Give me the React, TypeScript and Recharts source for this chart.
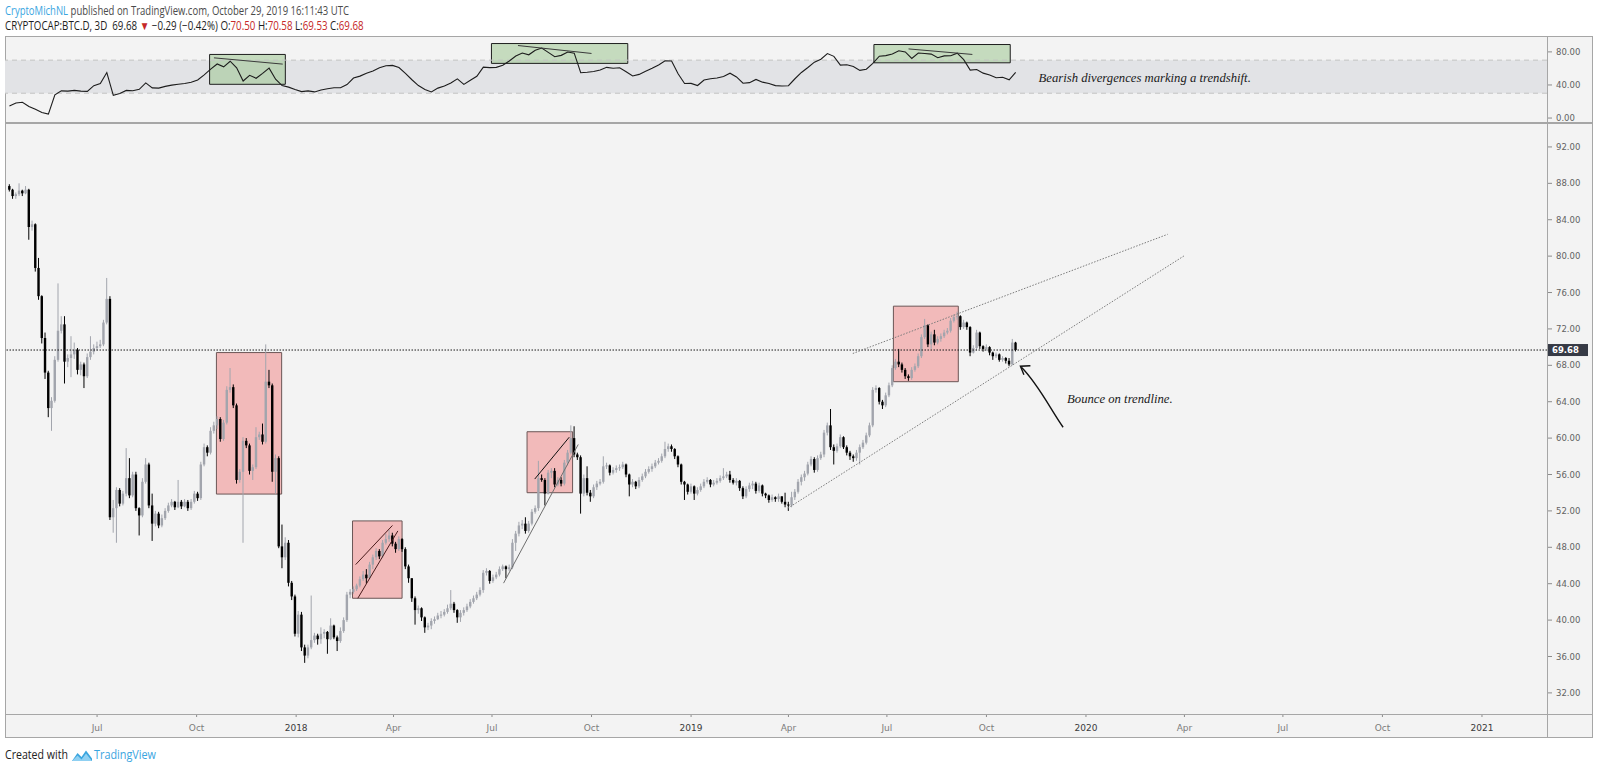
import React, { useLayoutEffect, useRef, useState } from 'react'
import {
  ComposedChart,
  Bar,
  Line,
  XAxis,
  YAxis,
  ReferenceArea,
  ReferenceLine,
  ReferenceDot,
} from 'recharts'

// CRYPTOCAP:BTC.D, 3D candles. Days are counted from 2017-01-01.
const firstDay = 100 // 2017-04-11
const stepDays = 3
const firstOpen = 87.7

const closes = [
  87.3, 86.6, 86.8, 87.2, 86.9, 87.3, 83.2, 83.5, 78.7, 75.6, 71.0, 67.2, 63.3, 64.1, 68.6, 71.8,
  72.5, 68.4, 68.8, 69.2, 69.7, 67.5, 68.1, 66.8, 68.9, 69.5, 69.9, 70.1, 70.3, 72.7, 75.3, 51.3,
  52.3, 54.3, 52.8, 53.9, 55.6, 53.7, 56.0, 52.3, 51.5, 55.2, 57.1, 52.6, 50.6, 51.7, 50.4, 51.2,
  52.0, 52.6, 53.0, 52.4, 53.0, 52.5, 53.0, 52.3, 53.0, 53.9, 53.4, 57.1, 59.0, 58.4, 60.8, 61.4,
  62.1, 59.9, 61.7, 65.3, 65.6, 63.6, 55.4, 56.3, 59.7, 59.2, 56.4, 56.8, 60.1, 60.4, 59.6, 66.2,
  65.8, 56.3, 57.8, 48.1,
  46.9, 48.5, 44.1, 42.6, 38.5, 40.6, 37.0, 36.1, 37.0, 37.8, 38.3, 37.9, 38.5, 38.7, 37.9, 39.4,
  38.1, 37.7, 38.8, 40.0, 42.8, 43.1, 43.4, 43.8, 44.5, 45.0, 44.6, 46.1, 46.9, 47.6, 47.0, 48.5,
  48.9, 49.3, 48.4, 47.8, 48.9, 47.8, 45.9, 44.6, 42.4, 41.1, 41.3, 40.3, 39.2, 39.4, 39.9, 40.1,
  40.5, 40.6, 40.9, 41.3, 41.8, 41.1, 40.3, 40.8, 41.1, 41.5, 42.0, 42.4, 42.8, 43.3, 45.2, 45.4,
  44.3, 44.7, 45.0, 45.6,
  45.9, 45.6, 45.8, 48.5, 49.5, 50.4, 50.6, 49.8, 50.6, 51.9, 52.3, 55.6, 55.4, 53.9, 56.2, 56.4,
  54.9, 55.4, 55.0, 57.3, 58.4, 60.0, 58.2, 57.9, 53.9, 55.6, 54.0, 53.6, 54.6, 55.0, 55.2, 56.9,
  57.0, 56.2, 56.5, 56.7, 56.8, 57.1, 56.0, 54.9, 55.2, 54.7, 55.4, 55.8, 56.3, 56.6, 56.9, 57.3,
  57.5, 58.0, 58.8, 59.1, 58.8, 58.0, 57.1, 55.2, 54.9, 54.1, 54.7, 53.9, 54.3, 54.7, 55.2, 55.4,
  54.9, 55.1, 55.3, 55.6, 55.8, 56.0, 55.4, 55.1, 55.3, 54.5, 53.6, 54.4, 54.8, 55.0, 54.2, 54.8,
  53.9, 53.7, 53.2, 53.5, 53.3, 53.6,
  53.0, 52.7, 52.6, 53.5, 54.1, 55.2, 55.7, 56.1, 57.1, 57.7, 56.5, 57.8, 58.2, 60.6, 61.4, 59.0,
  58.6, 59.1, 60.1, 59.0, 58.4, 58.0, 57.8, 58.4, 59.0, 59.5, 60.3, 61.4, 65.3, 65.5, 64.0, 63.6,
  64.7, 65.8, 67.7, 68.4, 68.1, 67.5, 66.8, 66.6, 67.5, 67.9, 69.0, 71.1, 72.4, 70.3, 71.4, 70.5,
  70.9, 71.2, 71.6, 71.8, 72.9, 73.3, 73.4, 72.2,
  72.7, 72.2, 69.4, 69.9, 71.6, 70.1, 69.8, 70.0, 69.4, 69.0, 69.2, 68.6, 68.8, 68.5, 68.1, 70.5,
  69.68,
]

const highs = [
  87.9, 87.4, 87.0, 88.0, 87.3, 87.7, 87.4, 83.9, 83.6, 79.8, 75.7, 71.6, 67.4, 64.5, 69.0, 77.0,
  73.4, 73.4, 69.2, 71.2, 70.5, 69.9, 68.4, 68.3, 69.3, 71.2, 70.3, 70.6, 70.8, 73.0, 77.6, 75.6,
  53.2, 54.6, 54.5, 54.2, 58.9, 57.8, 56.3, 56.3, 52.4, 55.6, 57.8, 57.3, 53.9, 52.0, 51.9, 51.6,
  52.3, 52.9, 53.3, 53.1, 55.4, 53.2, 53.3, 53.2, 53.3, 54.2, 54.1, 57.4, 59.4, 59.2, 61.2, 61.8,
  62.4, 62.3, 62.0, 65.7, 67.7, 65.9, 63.8, 56.6, 60.1, 60.0, 59.4, 57.1, 61.2, 60.7, 61.6, 70.3,
  67.5, 66.0, 58.2, 58.0,
  50.5, 49.1, 48.8, 44.3, 42.8, 41.0, 40.9, 37.3, 37.3, 42.7, 38.6, 38.5, 39.2, 39.0, 38.8, 40.2,
  39.5, 38.3, 39.2, 40.3, 43.1, 43.4, 43.7, 44.0, 44.8, 45.4, 45.6, 46.4, 47.2, 47.9, 47.8, 48.8,
  49.5, 49.9, 49.6, 48.6, 49.2, 49.0, 48.0, 46.1, 44.3, 42.6, 41.6, 41.4, 40.4, 39.7, 40.2, 40.4,
  40.8, 41.0, 41.2, 41.7, 43.3, 42.0, 41.2, 41.1, 41.4, 41.8, 42.3, 42.7, 43.1, 43.6, 45.5, 45.7,
  45.5, 45.0, 45.3, 45.9,
  46.1, 46.0, 46.1, 48.9, 49.8, 50.8, 51.0, 51.3, 50.9, 52.2, 52.6, 57.5, 56.0, 55.6, 56.5, 56.7,
  56.7, 55.7, 55.7, 57.6, 58.7, 61.4, 61.3, 58.4, 58.1, 56.0, 56.9, 54.3, 54.9, 55.3, 55.5, 58.0,
  57.3, 57.1, 56.8, 57.0, 57.1, 57.4, 57.2, 56.1, 55.5, 55.3, 55.7, 56.1, 56.6, 56.9, 57.2, 57.6,
  57.8, 58.3, 59.6, 59.4, 59.3, 58.9, 58.1, 57.2, 55.3, 55.0, 55.0, 54.8, 54.6, 55.0, 55.5, 55.7,
  55.5, 55.4, 55.6, 55.9, 56.7, 56.3, 56.4, 55.6, 55.6, 55.4, 54.7, 54.7, 55.1, 55.3, 55.2, 55.1,
  54.9, 54.0, 53.8, 53.8, 53.6, 53.9,
  53.6, 54.0, 53.0, 54.1, 54.4, 55.5, 56.0, 56.4, 57.4, 58.0, 57.9, 58.1, 58.5, 60.9, 61.7, 63.2,
  59.3, 59.4, 60.4, 60.2, 59.2, 58.6, 58.2, 58.7, 59.3, 59.8, 60.6, 61.7, 65.6, 65.8, 65.6, 64.2,
  65.0, 66.1, 68.0, 68.7, 69.8, 68.3, 67.7, 67.0, 67.8, 68.2, 69.3, 71.4, 73.1, 72.5, 71.7, 71.9,
  71.2, 71.5, 71.9, 72.1, 73.2, 73.6, 73.9, 73.5,
  73.0, 72.8, 72.3, 70.2, 71.9, 71.7, 70.2, 70.3, 70.1, 69.5, 69.4, 69.3, 69.0, 68.9, 68.8, 70.9,
  70.58,
]

const lows = [
  87.1, 86.3, 86.3, 86.6, 86.6, 86.8, 81.8, 82.8, 78.3, 75.2, 70.4, 66.5, 62.3, 60.8, 63.9, 68.4,
  71.5, 66.0, 67.8, 66.7, 68.7, 67.0, 66.9, 65.5, 66.6, 68.6, 69.2, 69.6, 69.9, 70.1, 72.5, 51.0,
  49.6, 48.5, 52.5, 52.6, 53.6, 53.4, 53.5, 52.0, 49.3, 51.3, 55.0, 52.3, 48.7, 50.3, 50.1, 50.2,
  51.0, 51.8, 52.4, 52.1, 52.3, 52.2, 52.4, 52.0, 52.1, 52.8, 53.1, 53.2, 56.9, 58.0, 58.2, 60.5,
  61.0, 59.6, 59.7, 61.5, 65.0, 63.3, 55.0, 55.1, 48.5, 58.9, 56.0, 55.4, 56.6, 59.8, 59.3, 59.4,
  65.5, 55.2, 53.9, 47.9,
  45.7, 46.6, 43.7, 42.2, 38.2, 38.1, 36.6, 35.3, 35.8, 36.8, 37.5, 37.3, 37.4, 38.0, 36.3, 37.8,
  37.9, 36.6, 37.5, 38.6, 39.8, 42.4, 42.9, 43.2, 43.6, 44.3, 44.0, 44.5, 45.6, 46.6, 46.7, 46.8,
  48.3, 48.6, 48.1, 47.4, 47.6, 47.5, 45.6, 44.1, 42.0, 39.5, 40.7, 39.9, 38.6, 38.9, 39.0, 39.6,
  40.0, 40.2, 40.4, 40.7, 41.1, 40.8, 39.7, 39.8, 40.5, 40.9, 41.3, 41.8, 42.2, 42.6, 43.0, 44.9,
  44.0, 44.1, 44.5, 44.8,
  45.4, 44.6, 45.4, 45.6, 47.6, 49.2, 50.0, 49.5, 49.6, 50.4, 51.7, 52.0, 55.2, 52.6, 53.8, 55.6,
  54.6, 54.7, 54.7, 54.8, 57.0, 58.2, 57.9, 57.6, 51.7, 53.6, 53.7, 53.0, 53.4, 54.3, 54.8, 55.0,
  56.6, 55.9, 56.0, 56.2, 56.4, 56.6, 55.7, 53.6, 54.6, 54.4, 54.5, 55.2, 55.6, 56.1, 56.3, 56.7,
  57.1, 57.3, 57.8, 58.5, 58.5, 57.7, 56.8, 54.9, 53.2, 53.8, 53.9, 53.2, 53.7, 54.1, 54.5, 55.0,
  54.6, 54.7, 54.9, 55.1, 55.4, 55.6, 55.1, 54.9, 54.8, 54.2, 53.3, 53.4, 54.1, 54.4, 53.9, 54.0,
  53.6, 53.4, 52.9, 53.0, 53.0, 53.0,
  52.8, 52.4, 52.0, 52.4, 53.2, 53.9, 54.8, 55.3, 55.9, 56.9, 56.2, 56.3, 57.6, 57.9, 60.3, 58.7,
  57.1, 58.4, 58.9, 58.8, 58.1, 57.6, 57.4, 57.5, 57.1, 58.8, 59.3, 60.1, 61.2, 65.0, 63.7, 63.2,
  63.4, 64.5, 65.6, 67.5, 67.8, 67.2, 66.5, 66.3, 66.4, 67.3, 67.7, 68.8, 70.9, 70.0, 69.8, 70.2,
  70.3, 70.6, 71.0, 71.4, 71.6, 72.7, 73.0, 71.9,
  72.0, 71.9, 69.0, 69.3, 69.6, 69.8, 69.5, 69.6, 69.1, 68.6, 68.8, 68.4, 68.4, 68.2, 67.9, 68.0,
  69.53,
]

const rsiStep = 2
const rsiValues = [
  14.5, 18.1, 19.1, 13.9, 10.5, 6.8, 4.8, 28.0, 32.9, 32.6,
  33.4, 32.5, 32.3, 39.1, 41.8, 55.0, 27.4, 29.7, 33.4, 33.0,
  34.7, 42.5, 36.5, 36.2, 38.3, 39.8, 40.9, 41.8, 43.2, 46.0,
  52.2, 59.2, 65.4, 61.9, 68.7, 60.7, 44.8, 51.7, 48.1, 54.0,
  60.3, 47.0, 39.2, 37.4, 34.5, 32.0, 32.9, 31.6, 34.0, 35.5,
  36.7, 36.6, 40.5, 48.4, 50.7, 54.3, 57.0, 60.7, 63.3, 63.7,
  61.1, 54.0, 46.3, 39.3, 34.6, 31.6, 36.2, 38.7, 42.3, 47.4,
  40.7, 45.7, 50.5, 61.6, 61.0, 61.3, 63.9, 69.0, 75.0, 78.6,
  76.5, 82.0, 84.6, 79.4, 74.2, 75.8, 79.8, 78.5, 54.8, 55.4,
  56.2, 58.2, 61.3, 60.3, 60.8, 56.0, 50.8, 52.8, 56.5, 60.1,
  64.1, 69.2, 69.0, 53.6, 41.7, 41.9, 39.3, 46.0, 47.5, 48.5,
  50.3, 54.2, 49.7, 42.1, 42.8, 46.7, 43.4, 41.8, 39.2, 38.7,
  39.1, 47.5, 55.1, 61.1, 67.6, 71.2, 78.0, 74.6, 64.0, 64.5,
  62.3, 57.6, 59.0, 66.1, 74.8, 75.5, 77.4, 81.3, 79.9, 72.1,
  78.6, 78.1, 77.3, 72.9, 75.2, 75.4, 78.4, 70.6, 57.9, 58.7,
  54.3, 52.0, 48.8, 49.4, 46.3, 55.3,
]

const timeTickDays = [181, 273, 365, 455, 546, 638, 730, 820, 911, 1003, 1095, 1186, 1277, 1369, 1461]
const timeTickLabels = ['Jul', 'Oct', '2018', 'Apr', 'Jul', 'Oct', '2019', 'Apr', 'Jul', 'Oct', '2020', 'Apr', 'Jul', 'Oct', '2021']
const priceTicks = [32, 36, 40, 44, 48, 52, 56, 60, 64, 68, 72, 76, 80, 84, 88, 92]
const rsiTicks = [0, 40, 80]
const lastPrice = 69.68

const X_DOMAIN: [number, number] = [95.9, 1521.1]
const PRICE_DOMAIN: [number, number] = [29.68, 94.63]
const RSI_DOMAIN: [number, number] = [-6, 98]

// drawings on the chart (day, value)
const pinkBoxes = [
  { x1: 291.3, x2: 351.6, y1: 53.85, y2: 69.4 },
  { x1: 417.1, x2: 462.9, y1: 42.4, y2: 50.9 },
  { x1: 578.4, x2: 620.5, y1: 54.0, y2: 60.7 },
  { x1: 917, x2: 977, y1: 66.2, y2: 74.5 },
]
const solidLines = [
  { a: [420, 46.1], b: [454, 50.4], color: '#4a1c1c' },
  { a: [422, 42.4], b: [459, 49.8], color: '#4a1c1c' },
  { a: [585.5, 55.5], b: [617.4, 60.1], color: '#111111' },
  { a: [556.7, 44.06], b: [625.7, 59.3], color: '#6e6e6e' },
]
const dottedLines = [
  { a: [879.5, 69.3], b: [1170.5, 82.4] },
  { a: [819.5, 52.3], b: [1186.6, 80.1] },
]
const greenBoxes = [
  { x1: 285, x2: 355, y1: 40.8, y2: 76.9 },
  { x1: 545.5, x2: 671.5, y1: 66.1, y2: 90.1 },
  { x1: 899, x2: 1025, y1: 66.8, y2: 88.9 },
]
const rsiLines = [
  { a: [289, 72.8], b: [352.6, 65.2] },
  { a: [570, 87.7], b: [638, 78.1] },
  { a: [931, 83.6], b: [990, 76.9] },
]

const candles = closes.map((c, i) => {
  const o = i === 0 ? firstOpen : closes[i - 1]
  const h = Math.max(highs[i], o, c)
  const l = Math.min(lows[i], o, c)
  return { day: firstDay + i * stepDays, o, c, h, l, range: [l, h] }
})

const rsiData = rsiValues.map((v, k) => ({ day: firstDay + k * rsiStep * stepDays, rsi: v }))

const UP = '#a2a5ad'
const DOWN = '#000000'
const BG = '#f3f3f3'
const AXIS_FONT = "'DejaVu Sans', Verdana, sans-serif"
const SERIF = "'Liberation Serif', 'DejaVu Serif', serif"
const SANS = "'Open Sans', 'Noto Sans', sans-serif"

// squeezes a text line to a given width (the header font is a narrow one)
function FitText({ x, y, width, children, ...rest }: any) {
  const ref = useRef<SVGTextElement>(null)
  const [k, setK] = useState(1)
  useLayoutEffect(() => {
    const el = ref.current
    if (!el) return
    const w = el.getComputedTextLength()
    if (w > 0) setK(width / w)
  }, [width])
  return (
    <g transform={`translate(${x} ${y}) scale(${k} 1)`}>
      <text ref={ref} x={0} y={0} style={{ whiteSpace: 'pre' }} {...rest}>
        {children}
      </text>
    </g>
  )
}

function Candle(props: any) {
  const { x, y, width, height, payload } = props
  if (x == null || y == null || !payload) return null
  const { o, c, h, l } = payload
  const color = c >= o ? UP : DOWN
  const top = height < 0 ? y + height : y
  const span = Math.abs(height)
  const ppu = h > l ? span / (h - l) : 0
  const bodyTop = top + (h - Math.max(o, c)) * ppu
  const bodyBottom = top + (h - Math.min(o, c)) * ppu
  const cx = x + width / 2
  return (
    <g>
      <line x1={cx} x2={cx} y1={top} y2={top + span} stroke={color} strokeWidth={1} />
      <rect x={cx - 1.2} y={bodyTop} width={2.4} height={Math.max(1, bodyBottom - bodyTop)} fill={color} />
    </g>
  )
}

function TimeTick(props: any) {
  const { x, y, payload } = props
  const idx = timeTickDays.findIndex((d) => Math.abs(d - payload.value) < 0.01)
  const label = timeTickLabels[idx] ?? ''
  const isYear = /^\d{4}$/.test(label)
  return (
    <g>
      <line x1={x} x2={x} y1={y} y2={y + 3} stroke="#8c8c8c" />
      <text x={x} y={y + 16.5} textAnchor="middle" fontSize={9} fontFamily={AXIS_FONT} fill={isYear ? '#3a3a3a' : '#7c7c7c'}>
        {label}
      </text>
    </g>
  )
}

const yTick = { fontSize: 8.5, fill: '#626262', fontFamily: AXIS_FONT }

function RsiPane() {
  return (
    <ComposedChart width={1588} height={86} data={rsiData} margin={{ top: 0, right: 0, bottom: 0, left: 0 }}>
      <XAxis dataKey="day" type="number" domain={X_DOMAIN} allowDataOverflow hide />
      <YAxis
        orientation="right"
        domain={RSI_DOMAIN}
        allowDataOverflow
        ticks={rsiTicks}
        interval={0}
        width={46}
        axisLine={false}
        tickLine={{ stroke: '#8c8c8c' }}
        tickSize={5}
        tickMargin={4}
        tick={yTick}
        tickFormatter={(v: number) => v.toFixed(2)}
      />
      <ReferenceArea y1={30} y2={70} fill="#e2e3e6" fillOpacity={1} stroke="none" />
      <ReferenceLine y={70} stroke="#c2c2c2" strokeDasharray="5 4" />
      <ReferenceLine y={30} stroke="#c2c2c2" strokeDasharray="5 4" />
      {greenBoxes.map((b, i) => (
        <ReferenceArea key={'g' + i} x1={b.x1} x2={b.x2} y1={b.y1} y2={b.y2} fill="#8fbf7f" fillOpacity={0.45} stroke="#1e1e1e" strokeOpacity={1} />
      ))}
      <Line dataKey="rsi" type="linear" dot={false} stroke="#1c1c1c" strokeWidth={1.1} isAnimationActive={false} />
      {rsiLines.map((s, i) => (
        <ReferenceLine key={'r' + i} segment={[{ x: s.a[0], y: s.a[1] }, { x: s.b[0], y: s.b[1] }]} stroke="#3a3a3a" strokeWidth={1} />
      ))}
      <ReferenceDot
        x={1051.2}
        y={43.6}
        r={1}
        shape={(p: any) => (
          <text x={p.cx} y={p.cy} fontFamily={SERIF} fontStyle="italic" fontSize={12.7} fill="#1a1a1a">
            Bearish divergences marking a trendshift.
          </text>
        )}
      />
    </ComposedChart>
  )
}

function PricePane() {
  return (
    <ComposedChart width={1588} height={615} data={candles} margin={{ top: 0, right: 0, bottom: 0, left: 0 }}>
      <XAxis
        dataKey="day"
        type="number"
        domain={X_DOMAIN}
        allowDataOverflow
        ticks={timeTickDays}
        interval={0}
        height={24}
        axisLine={false}
        tickLine={false}
        tickSize={0}
        tickMargin={0}
        tick={<TimeTick />}
      />
      <YAxis
        orientation="right"
        domain={PRICE_DOMAIN}
        allowDataOverflow
        ticks={priceTicks}
        interval={0}
        width={46}
        axisLine={false}
        tickLine={{ stroke: '#8c8c8c' }}
        tickSize={5}
        tickMargin={4}
        tick={yTick}
        tickFormatter={(v: number) => v.toFixed(2)}
      />
      <ReferenceLine y={lastPrice} stroke="#1a1a1a" strokeDasharray="1.5 1.5" />
      <Bar dataKey="range" barSize={3} shape={(p: any) => <Candle {...p} />} isAnimationActive={false} />
      {pinkBoxes.map((b, i) => (
        <ReferenceArea key={'p' + i} x1={b.x1} x2={b.x2} y1={b.y1} y2={b.y2} fill="#f06464" fillOpacity={0.4} stroke="#6b5656" strokeOpacity={1} />
      ))}
      {solidLines.map((s, i) => (
        <ReferenceLine key={'s' + i} segment={[{ x: s.a[0], y: s.a[1] }, { x: s.b[0], y: s.b[1] }]} stroke={s.color} strokeWidth={1} />
      ))}
      {dottedLines.map((s, i) => (
        <ReferenceLine key={'d' + i} segment={[{ x: s.a[0], y: s.a[1] }, { x: s.b[0], y: s.b[1] }]} stroke="#7a7a7a" strokeWidth={1} strokeDasharray="1.5 1.5" />
      ))}
      <ReferenceDot
        x={1034.4}
        y={67.9}
        r={1}
        shape={(p: any) => (
          <g fill="none" stroke="#111" strokeWidth={1.4}>
            <path d={`M${p.cx + 42.7} ${p.cy + 61} C${p.cx + 30} ${p.cy + 43} ${p.cx + 18} ${p.cy + 18} ${p.cx + 1} ${p.cy + 1}`} />
            <path d={`M${p.cx + 10} ${p.cy - 0.5} L${p.cx} ${p.cy} L${p.cx + 3.5} ${p.cy + 8.5}`} />
          </g>
        )}
      />
      <ReferenceDot
        x={1077.5}
        y={63.85}
        r={1}
        shape={(p: any) => (
          <text x={p.cx} y={p.cy} fontFamily={SERIF} fontStyle="italic" fontSize={12.7} fill="#1a1a1a">
            Bounce on trendline.
          </text>
        )}
      />
      <ReferenceDot
        x={X_DOMAIN[1]}
        y={lastPrice}
        r={1}
        shape={(p: any) => (
          <g>
            <rect x={p.cx} y={p.cy - 6} width={41} height={12} fill="#363a45" />
            <text x={p.cx + 5} y={p.cy + 3.2} fontSize={8.5} fontWeight="bold" fontFamily={AXIS_FONT} fill="#ffffff">
              {lastPrice.toFixed(2)}
            </text>
          </g>
        )}
      />
    </ComposedChart>
  )
}

export default function App() {
  const line = (style: React.CSSProperties) => <div style={{ position: 'absolute', background: '#a6a6a6', ...style }} />
  return (
    <div style={{ position: 'absolute', left: 0, top: 0, width: 1600, height: 771, background: '#ffffff', overflow: 'hidden' }}>
      <svg style={{ position: 'absolute', left: 0, top: 0 }} width={1600} height={36}>
        <FitText x={5} y={14.8} width={344} fontFamily={SANS} fontSize={12}>
          <tspan fill="#3aa5df">CryptoMichNL</tspan>
          <tspan fill="#4a4a4a">{' published on TradingView.com, October 29, 2019 16:11:43 UTC'}</tspan>
        </FitText>
        <FitText x={5} y={30.3} width={359} fontFamily={SANS} fontSize={12}>
          <tspan fill="#1e1e1e">{'CRYPTOCAP:BTC.D, 3D  69.68 '}</tspan>
          <tspan fill="#c62828">{'▼'}</tspan>
          <tspan fill="#1e1e1e">{' −0.29 (−0.42%) O:'}</tspan>
          <tspan fill="#c62828">{'70.50'}</tspan>
          <tspan fill="#1e1e1e">{' H:'}</tspan>
          <tspan fill="#c62828">{'70.58'}</tspan>
          <tspan fill="#1e1e1e">{' L:'}</tspan>
          <tspan fill="#c62828">{'69.53'}</tspan>
          <tspan fill="#1e1e1e">{' C:'}</tspan>
          <tspan fill="#c62828">{'69.68'}</tspan>
        </FitText>
      </svg>

      <div style={{ position: 'absolute', left: 5, top: 36, width: 1588, height: 702, background: BG, border: '1px solid #a6a6a6', boxSizing: 'border-box' }} />

      <div style={{ position: 'absolute', left: 5, top: 37 }}>
        <RsiPane />
      </div>
      <div style={{ position: 'absolute', left: 5, top: 123 }}>
        <PricePane />
      </div>

      {line({ left: 5, top: 122, width: 1588, height: 2 })}
      {line({ left: 5, top: 714, width: 1588, height: 1 })}
      {line({ left: 1547, top: 36, width: 1, height: 702 })}

      <svg style={{ position: 'absolute', left: 0, top: 740 }} width={300} height={31}>
        <FitText x={5} y={19} width={63} fontFamily={SANS} fontSize={12} fill="#222">
          Created with
        </FitText>
        <path d="M72 21 L77.5 13 L81.5 17 L86 10.5 L92 18.5 L92 21 Z" fill="#3aa5df" />
        <path d="M72 21 L77.5 15.5 L81.5 19.5 L86 13.5 L92 21 Z" fill="#8fd0f2" />
        <FitText x={94} y={19} width={62} fontFamily={SANS} fontSize={12} fill="#3aa5df">
          TradingView
        </FitText>
      </svg>
    </div>
  )
}
